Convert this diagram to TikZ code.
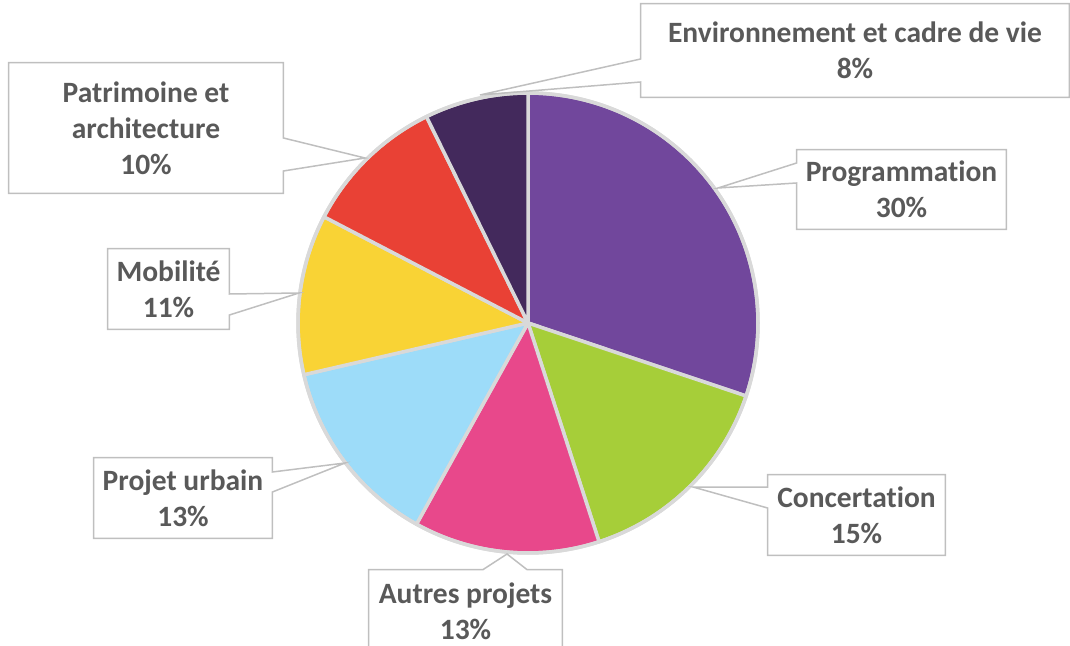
\documentclass[tikz,border=0pt]{standalone}
\usepackage{fontspec}
\setmainfont[Ligatures=NoCommon]{Carlito}
\usepackage{xcolor}
\definecolor{progpurple}{HTML}{71479C}
\definecolor{concgreen}{HTML}{A6CE39}
\definecolor{autrespink}{HTML}{E8488B}
\definecolor{urbainblue}{HTML}{9DDCF9}
\definecolor{mobyellow}{HTML}{F9D335}
\definecolor{patred}{HTML}{E94135}
\definecolor{envpurple}{HTML}{43295C}
\definecolor{labelgray}{HTML}{595959}
\definecolor{boxgray}{HTML}{BFBFBF}
\definecolor{slicegray}{HTML}{D9D9D9}

\begin{document}
\begin{tikzpicture}[x=0.5pt,y=-0.5pt,
    lbl/.style={font=\bfseries\fontsize{14.75}{18}\selectfont, text=labelgray, align=center, inner sep=0pt},
    callbox/.style={draw=boxgray, line width=0.75pt, line join=miter},
    wedge/.style={draw=slicegray, line width=1.75pt, line join=round}]
    \useasboundingbox (0,0) rectangle (1070,646);
    \clip (0,0) rectangle (1070,646);

    % Draw the pie slices
    \begin{scope}[shift={(528,323)}, y=0.5pt]
        \foreach \start/\finish/\col in {90/-18.5/progpurple, -18.5/-72/concgreen, -72/-119/autrespink,
            -119/-167/urbainblue, -167/-207.5/mobyellow, -207.5/-243.8/patred, -243.8/-270/envpurple}
            \filldraw[wedge, fill=\col] (0,0) -- (\start:230) arc[start angle=\start, end angle=\finish, radius=230] -- cycle;
        \draw[slicegray, line width=1.75pt] (0,0) circle[radius=230]; % outer rim
    \end{scope}

    % Label boxes
    \node[lbl, minimum width=428*0.5pt, minimum height=93*0.5pt] (env) at (855,50.5) {Environnement et cadre de vie\\8\%};
    \node[lbl, minimum width=274*0.5pt, minimum height=130*0.5pt] (patr) at (146,128) {Patrimoine et\\architecture\\10\%};
    \node[lbl, minimum width=209*0.5pt, minimum height=79*0.5pt] (prog) at (901.5,189.5) {Programmation\\30\%};
    \node[lbl, minimum width=121*0.5pt, minimum height=80*0.5pt] (mob) at (168.5,289) {Mobilité\\11\%};
    \node[lbl, minimum width=178*0.5pt, minimum height=80*0.5pt] (urb) at (183,498) {Projet urbain\\13\%};
    \node[lbl, minimum width=193*0.5pt, minimum height=82*0.5pt] (autres) at (465.5,611) {Autres projets\\13\%};
    \node[lbl, minimum width=177*0.5pt, minimum height=80*0.5pt] (conc) at (856.5,515) {Concertation\\15\%};

    % Pointer tips on the pie
    \coordinate (envtip) at (480,95);
    \coordinate (patrtip) at (365,158);
    \coordinate (progtip) at (718,188);
    \coordinate (mobtip) at (299,293);
    \coordinate (urbtip) at (345,463);
    \coordinate (autrestip) at (507,554);
    \coordinate (conctip) at (693,487);

    % Callout outlines
    \draw[callbox] (env.north west) -- (env.north east) -- (env.south east) -- (env.south west)
        -- (env.west |- 0,82) -- (envtip) -- (env.west |- 0,59) -- cycle;
    \draw[callbox] (patr.north west) -- (patr.north east) -- (patr.east |- 0,138) -- (patrtip)
        -- (patr.east |- 0,171) -- (patr.south east) -- (patr.south west) -- cycle;
    \draw[callbox] (prog.north west) -- (prog.north east) -- (prog.south east) -- (prog.south west)
        -- (prog.west |- 0,183) -- (progtip) -- (prog.west |- 0,163) -- cycle;
    \draw[callbox] (mob.north west) -- (mob.north east) -- (mob.east |- 0,294) -- (mobtip)
        -- (mob.east |- 0,315) -- (mob.south east) -- (mob.south west) -- cycle;
    \draw[callbox] (urb.north west) -- (urb.north east) -- (urb.east |- 0,472) -- (urbtip)
        -- (urb.east |- 0,492) -- (urb.south east) -- (urb.south west) -- cycle;
    \draw[callbox] (autres.north west) -- (483,0 |- autres.north) -- (autrestip) -- (527,0 |- autres.north)
        -- (autres.north east) -- (autres.south east) -- (autres.south west) -- cycle;
    \draw[callbox] (conc.north west) -- (conc.north east) -- (conc.south east) -- (conc.south west)
        -- (conc.west |- 0,508) -- (conctip) -- (conc.west |- 0,487) -- cycle;
\end{tikzpicture}
\end{document}
